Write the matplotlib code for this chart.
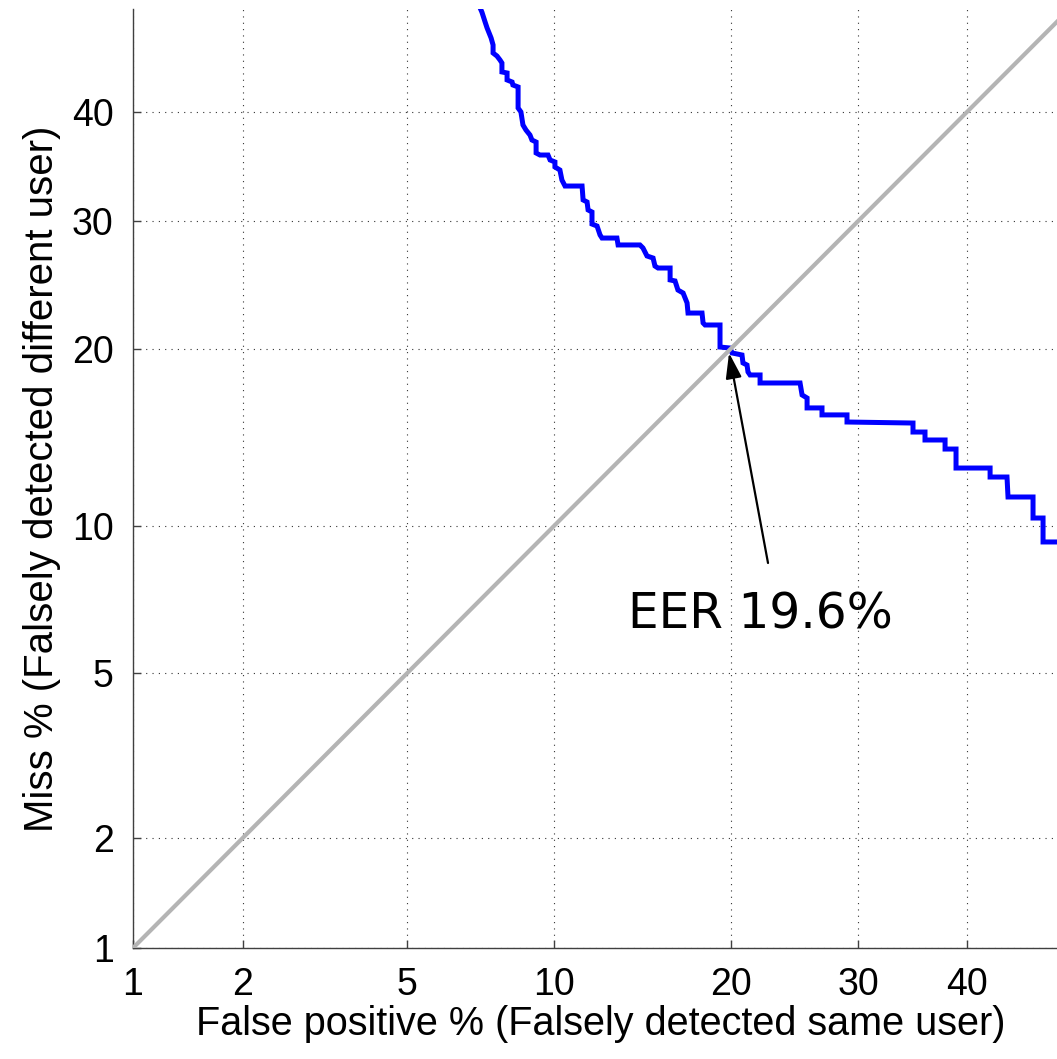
import math
import numpy as np
import matplotlib
matplotlib.use('Agg')
import matplotlib.pyplot as plt

# DET curve (percent)
fp = [7.16, 7.22, 7.33, 7.40, 7.47, 7.54, 7.61, 7.61, 7.75, 7.86,
      7.93, 7.93, 8.12, 8.12, 8.31, 8.34, 8.54, 8.54, 8.65, 8.73,
      8.85, 9.01, 9.09, 9.26, 9.26, 9.42, 9.76, 9.85, 10.06, 10.06,
      10.28, 10.37, 10.51, 11.30, 11.35, 11.54, 11.59, 11.78, 11.78, 12.03,
      12.18, 12.28, 13.05, 13.11, 14.30, 14.47, 14.70, 15.05, 15.16, 15.34,
      16.06, 16.06, 16.36, 16.54, 16.86, 17.11, 17.17, 18.07, 18.14, 18.27,
      19.27, 19.27, 19.96, 20.10, 20.80, 20.87, 21.16, 21.23, 21.38, 22.11,
      22.11, 25.17, 25.33, 25.73, 25.73, 26.94, 26.94, 29.03, 29.03, 34.88,
      34.88, 35.99, 35.99, 37.87, 37.87, 38.91, 38.91, 42.19, 42.19, 43.84,
      43.94, 46.40, 46.40, 47.39, 47.39, 49.07]
miss = [50.13, 49.73, 48.75, 48.15, 47.66, 47.17, 46.48, 45.69, 45.39, 45.00,
        44.71, 43.83, 43.73, 43.05, 42.85, 42.56, 42.37, 40.34, 39.96, 38.72,
        38.24, 37.77, 37.30, 37.11, 36.09, 35.90, 35.90, 35.44, 35.26, 34.80,
        34.52, 33.61, 33.07, 33.07, 31.83, 31.65, 30.95, 30.77, 29.73, 29.56,
        28.80, 28.54, 28.54, 27.96, 27.96, 27.71, 27.05, 26.88, 26.23, 26.07,
        26.07, 25.12, 25.04, 24.33, 24.10, 23.34, 22.58, 22.58, 21.85, 21.70,
        21.70, 20.13, 20.06, 19.72, 19.58, 19.04, 18.90, 18.44, 18.24, 18.24,
        17.72, 17.72, 16.96, 16.77, 16.16, 16.16, 15.74, 15.74, 15.32, 15.26,
        14.74, 14.74, 14.29, 14.29, 13.79, 13.79, 12.78, 12.78, 12.32, 12.32,
        11.34, 11.34, 10.37, 10.37, 9.34, 9.34]

diag = [1, 50]
ticks = [1, 2, 5, 10, 20, 30, 40]
tick_labels = ['1', '2', '5', '10', '20', '30', '40']
eer = 19.6
eer_point = (19.89, 19.72)
eer_tail = (22.70, 8.50)
eer_text_pos = (13.64, 6.26)

# probit (normal deviate) scale
erf = np.vectorize(math.erf)
zgrid = np.linspace(-6, 6, 24001)
pgrid = 50 * (1 + erf(zgrid / math.sqrt(2)))

def fwd(p):
    p = np.asarray(p, dtype=float)
    return np.interp(p, pgrid, zgrid)

def inv(z):
    z = np.asarray(z, dtype=float)
    return 50 * (1 + erf(z / math.sqrt(2)))

fig = plt.figure(figsize=(10.57, 10.59), dpi=100)
ax = fig.add_axes([133 / 1057, 111 / 1059, 936.4 / 1057, 938.7 / 1059])
ax.set_xscale('function', functions=(fwd, inv))
ax.set_yscale('function', functions=(fwd, inv))

ax.plot(fp, miss, color='#0000ff', lw=3.6, solid_joinstyle='miter', zorder=3)
ax.plot(diag, diag, color='#b4b4b4', lw=3.0, zorder=4)

ax.annotate('', xy=eer_point, xytext=eer_tail,
            arrowprops=dict(arrowstyle='-|>,head_length=0.7,head_width=0.22',
                            color='k', lw=1.6, mutation_scale=22,
                            shrinkA=0, shrinkB=0), zorder=5)
ax.text(eer_text_pos[0], eer_text_pos[1], 'EER %.1f%%' % eer, family='DejaVu Sans',
        fontsize=35, ha='left', va='baseline')

ax.set_xlim(1, 50)
ax.set_ylim(1, 50)
ax.set_xticks(ticks)
ax.set_xticklabels(tick_labels)
ax.set_yticks(ticks)
ax.set_yticklabels(tick_labels)
ax.minorticks_off()

ax.grid(True, color='0.2', lw=0.8, linestyle=(0, (1, 4.7)))
for s in ['top', 'right']:
    ax.spines[s].set_visible(False)
for s in ['left', 'bottom']:
    ax.spines[s].set_color('0.25')
    ax.spines[s].set_linewidth(1.0)
ax.tick_params(direction='in', length=6, width=1.0, color='0.25', labelsize=27, pad=14)
for lab in ax.get_xticklabels() + ax.get_yticklabels():
    lab.set_family('Liberation Sans')

ax.set_xlabel('False positive % (Falsely detected same user)', family='Liberation Sans',
              fontsize=28.5, labelpad=1)
ax.set_ylabel('Miss % (Falsely detected different user)', family='Liberation Sans',
              fontsize=29, labelpad=8)

fig.savefig('out.png', dpi=100)
